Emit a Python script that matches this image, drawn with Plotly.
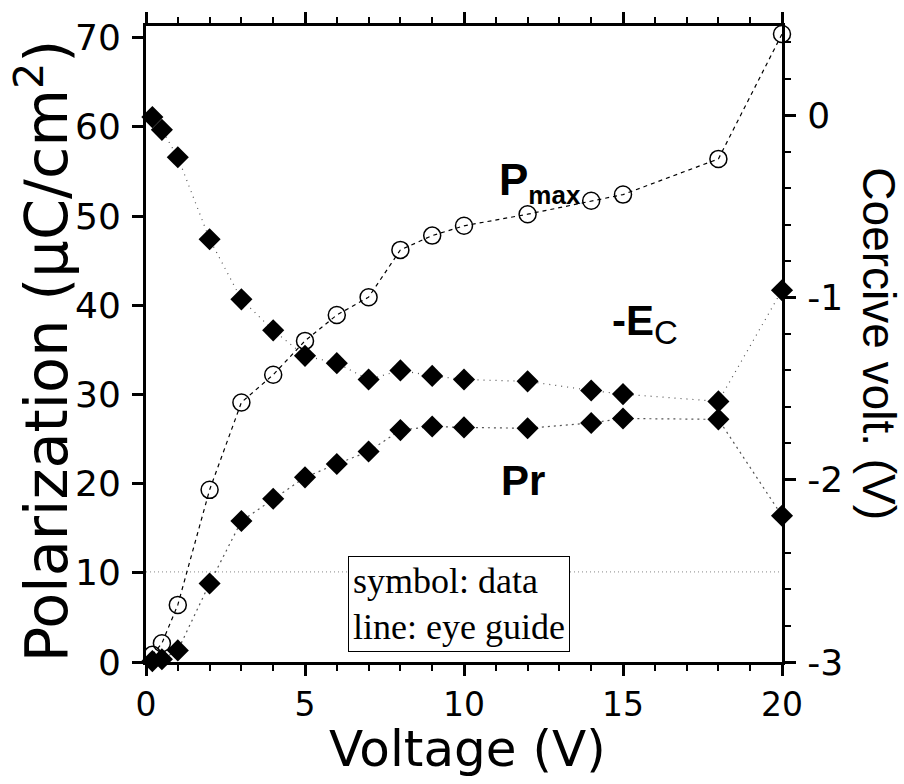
import plotly.graph_objects as go

voltage = [0.2, 0.5, 1, 2, 3, 4, 5, 6, 7, 8, 9, 10, 12, 14, 15, 18, 20]
p_max = [0.8, 2.1, 6.4, 19.3, 29.1, 32.2, 36.0, 38.9, 40.9, 46.2, 47.8, 48.9, 50.2, 51.7, 52.4, 56.4, 70.4]
p_r = [0.1, 0.3, 1.3, 8.8, 15.8, 18.3, 20.7, 22.2, 23.6, 26.0, 26.4, 26.3, 26.2, 26.8, 27.3, 27.2, 16.4]
neg_ec = [-0.01, -0.08, -0.23, -0.68, -1.01, -1.18, -1.32, -1.36, -1.45, -1.40, -1.43, -1.45, -1.46, -1.51, -1.53, -1.57, -0.96]

x_ticks = [0, 5, 10, 15, 20]
y_ticks = [0, 10, 20, 30, 40, 50, 60, 70]
y2_ticks = [-3, -2, -1, 0]
y2_ticktext = ["-3", "-2", "-1", "0"]
guide_level = 10.1

fig = go.Figure()

fig.add_trace(go.Scatter(
    x=voltage, y=p_max, mode="lines+markers", cliponaxis=False,
    line=dict(color="black", width=1.2, dash="4px,4px"),
    marker=dict(symbol="circle-open", size=17, color="black", line=dict(width=1.5, color="black")),
    showlegend=False))

fig.add_trace(go.Scatter(
    x=voltage, y=p_r, mode="lines+markers", cliponaxis=False,
    line=dict(color="#555", width=1.2, dash="2px,4px"),
    marker=dict(symbol="diamond", size=17, color="black"),
    showlegend=False))

fig.add_trace(go.Scatter(
    x=voltage, y=neg_ec, yaxis="y2", mode="lines+markers", cliponaxis=False,
    line=dict(color="#555", width=1.2, dash="1px,5px"),
    marker=dict(symbol="diamond", size=17, color="black"),
    showlegend=False))

xtickfont = dict(family="DejaVu Sans", size=33, color="black")
ytickfont = dict(family="DejaVu Sans", size=36, color="black")

fig.update_layout(
    width=904, height=784,
    margin=dict(l=146, r=122, t=20, b=122),
    paper_bgcolor="white", plot_bgcolor="white",
    xaxis=dict(range=[0, 20], tickvals=x_ticks, showgrid=False, zeroline=False,
               showline=True, linewidth=3, linecolor="black", mirror="ticks",
               ticks="outside", ticklen=11, tickwidth=3, tickcolor="black",
               minor=dict(dtick=1, tick0=0, ticks="outside", ticklen=6, tickwidth=2, tickcolor="black"),
               tickfont=xtickfont, ticklabelstandoff=0),
    yaxis=dict(range=[0, 71.3], tickvals=y_ticks, showgrid=False, zeroline=False,
               showline=True, linewidth=3, linecolor="black",
               ticks="outside", ticklen=11, tickwidth=3, tickcolor="black",
               tickfont=ytickfont, ticklabelstandoff=4),
    yaxis2=dict(range=[-3, 0.49], overlaying="y", side="right", tickvals=y2_ticks, ticktext=y2_ticktext,
                showgrid=False, zeroline=False, showline=True, linewidth=3, linecolor="black",
                ticks="outside", ticklen=11, tickwidth=3, tickcolor="black",
                minor=dict(dtick=0.2, tick0=0, ticks="outside", ticklen=6, tickwidth=2, tickcolor="black"),
                tickfont=ytickfont, ticklabelstandoff=4),
)

fig.add_shape(type="line", xref="paper", x0=0, x1=1, yref="y", y0=guide_level, y1=guide_level,
              line=dict(color="#888", width=1, dash="1px,3px"), layer="below")

# Axis titles
fig.add_annotation(text="Voltage (V)", xref="paper", yref="paper", x=0.505, y=-0.137,
                   xanchor="center", yanchor="middle", showarrow=False,
                   font=dict(family="DejaVu Sans", size=50, color="black"))
fig.add_annotation(text="Polarization (μC/cm<sup>2</sup>)", xref="paper", yref="paper", x=-0.162, y=0.49,
                   xanchor="center", yanchor="middle", showarrow=False, textangle=-90,
                   font=dict(family="DejaVu Sans", size=59, color="black"))
fig.add_annotation(text="Coercive volt. (V)", xref="paper", yref="paper", x=1.152, y=0.5,
                   xanchor="center", yanchor="middle", showarrow=False, textangle=90,
                   font=dict(family="Liberation Sans", size=46, color="black"))

# Series labels
fig.add_annotation(text="<b>P</b><sub><span style=\"font-size:26px\"><b>max</b></span></sub>",
                   x=11.05, y=53.8, xanchor="left", yanchor="middle",
                   showarrow=False, font=dict(family="Liberation Sans", size=44, color="black"))
fig.add_annotation(text="<b>-E</b><sub><span style=\"font-size:33px\">C</span></sub>",
                   x=14.6, y=37.9, xanchor="left", yanchor="middle",
                   showarrow=False, font=dict(family="Liberation Sans", size=42, color="black"))
fig.add_annotation(text="<b>Pr</b>", x=11.1, y=20.3, xanchor="left", yanchor="middle",
                   showarrow=False, font=dict(family="Liberation Sans", size=42, color="black"))

# Note box
fig.add_annotation(text="symbol: data<br>line: eye guide", xref="x", yref="y", x=6.35, y=6.55,
                   xanchor="left", yanchor="middle", showarrow=False, align="left",
                   width=212, height=86, bgcolor="white", bordercolor="black", borderwidth=1, borderpad=4,
                   font=dict(family="Liberation Serif", size=36, color="black"))

fig.write_html("out.html")
